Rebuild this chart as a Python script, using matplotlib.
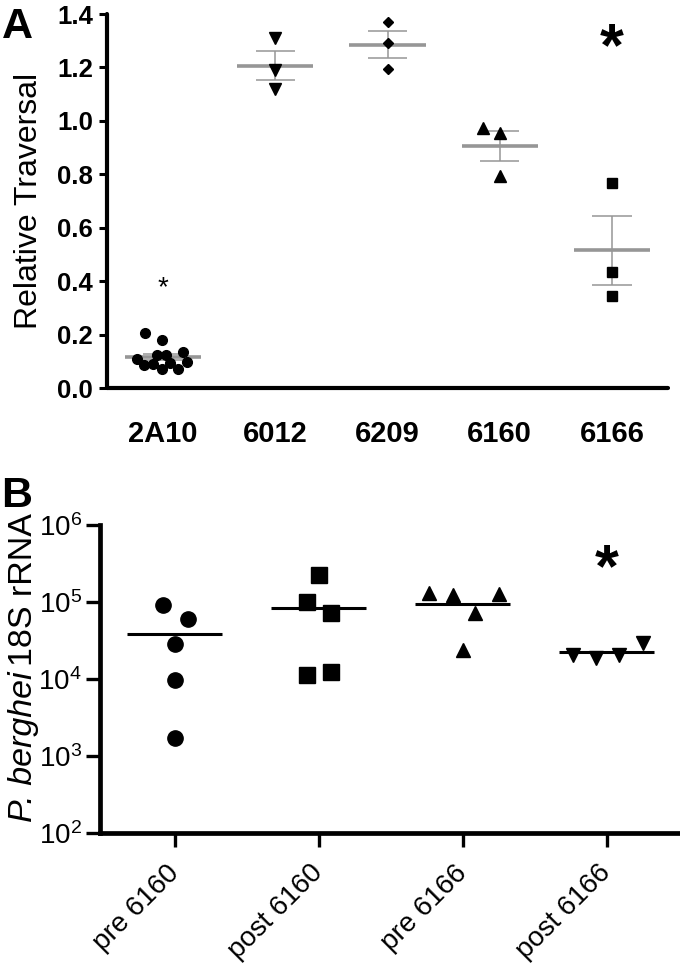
import numpy as np
import matplotlib
matplotlib.use("Agg")
import matplotlib.pyplot as plt

plt.rcParams['font.family'] = ['Liberation Sans', 'DejaVu Sans']
plt.rcParams['mathtext.fontset'] = 'custom'
plt.rcParams['mathtext.rm'] = 'Liberation Sans'

# ---- panel A data (relative traversal) ----
groups_a = ['2A10', '6012', '6209', '6160', '6166']
vals_2a10 = [0.206, 0.179, 0.110, 0.087, 0.090, 0.125, 0.125, 0.071, 0.094, 0.071, 0.133, 0.096]
jit_2a10 = [-0.165, -0.013, -0.237, -0.174, -0.094, -0.058, 0.022, -0.013, 0.058, 0.13, 0.174, 0.21]
vals_6012 = [1.31, 1.19, 1.12]
vals_6209 = [1.369, 1.293, 1.193]
vals_6160 = [0.973, 0.954, 0.792]
jit_6160 = [-0.15, 0.0, 0.0]
vals_6166 = [0.769, 0.434, 0.343]
markers_a = ['o', 'v', 'D', '^', 's']
msize_a = [7, 8, 4.8, 8, 7]
star_small_a = 0.40   # above 2A10
star_big_a = 1.315    # above 6166

# ---- panel B data (P. berghei 18S rRNA) ----
groups_b = ['pre 6160', 'post 6160', 'pre 6166', 'post 6166']
pre_6160 = [9.1e4, 6.0e4, 2.85e4, 9.7e3, 1.7e3]
jit_pre_6160 = [-0.083, 0.09, 0.0, 0.0, 0.0]
post_6160 = [2.24e5, 1.0e5, 7.2e4, 1.12e4, 1.25e4]
jit_post_6160 = [0.0, -0.083, 0.083, -0.083, 0.083]
pre_6166 = [1.31e5, 1.23e5, 1.27e5, 7.1e4, 2.4e4]
jit_pre_6166 = [-0.236, -0.07, 0.25, 0.083, 0.0]
post_6166 = [2.05e4, 1.9e4, 2.05e4, 2.9e4]
jit_post_6166 = [-0.23, -0.076, 0.083, 0.25]
markers_b = ['o', 's', '^', 'v']
msize_b = [11, 11, 10, 10]
star_b = 3.7e5   # above post 6166

grey = '#969696'

fig = plt.figure(figsize=(6.8, 9.68), dpi=100)

# ================= panel A =================
axA = fig.add_axes([107/680, 1-388/968, 561/680, 374/968])
data_a = [vals_2a10, vals_6012, vals_6209, vals_6160, vals_6166]
jit_a = [jit_2a10, [0]*3, [0]*3, jit_6160, [0]*3]
for i, (v, j) in enumerate(zip(data_a, jit_a)):
    x0 = i + 1
    v = np.array(v)
    m = v.mean()
    sem = v.std(ddof=1) / np.sqrt(len(v))
    axA.plot(x0 + np.array(j), v, linestyle='none', marker=markers_a[i],
             ms=msize_a[i], color='black', zorder=3)
    axA.hlines(m, x0 - 0.34, x0 + 0.34, color=grey, lw=2.6, zorder=2)
    axA.vlines(x0, m - sem, m + sem, color=grey, lw=1.1, zorder=2)
    axA.hlines([m - sem, m + sem], x0 - 0.175, x0 + 0.175, color=grey, lw=1.1, zorder=2)

# asterisks (glyph sits high in its box, so nudge down)
axA.annotate('*', (1, star_small_a), xytext=(0, -5), textcoords='offset points',
             ha='center', va='center', fontsize=20)
axA.annotate('*', (5, star_big_a), xytext=(0, -9), textcoords='offset points',
             ha='center', va='center', fontsize=44, fontweight='bold')

axA.set_xlim(0.5, 5.5)
axA.set_ylim(0, 1.4)
axA.set_xticks(range(1, 6))
axA.set_xticklabels(groups_a, fontsize=21, fontweight='bold')
yt = np.arange(0, 1.41, 0.2)
axA.set_yticks(yt)
axA.set_yticklabels(['%.1f' % t for t in yt], fontsize=18.5, fontweight='bold')
axA.tick_params(axis='x', length=0, pad=23)
axA.tick_params(axis='y', length=6, width=2.2, pad=4)
for s in ['top', 'right']:
    axA.spines[s].set_visible(False)
for s in ['left', 'bottom']:
    axA.spines[s].set_linewidth(3.0)
    axA.spines[s].set_capstyle('round')
axA.set_ylabel('Relative Traversal', fontsize=23)
axA.yaxis.set_label_coords(-0.112, 0.5)
fig.text(0.003, 0.993, 'A', fontsize=31, fontweight='bold', va='top', ha='left')

# ================= panel B =================
axB = fig.add_axes([100/680, 1-833/968, 580/680, 308/968])
data_b = [pre_6160, post_6160, pre_6166, post_6166]
jit_b = [jit_pre_6160, jit_post_6160, jit_pre_6166, jit_post_6166]
for i, (v, j) in enumerate(zip(data_b, jit_b)):
    x0 = i + 1
    v = np.array(v)
    axB.plot(x0 + np.array(j), v, linestyle='none', marker=markers_b[i],
             ms=msize_b[i], color='black', zorder=3)
    axB.hlines(v.mean(), x0 - 0.33, x0 + 0.33, color='black', lw=2.2, zorder=2)

axB.annotate('*', (4, star_b), xytext=(0, -9), textcoords='offset points',
             ha='center', va='center', fontsize=44, fontweight='bold')

axB.set_yscale('log')
axB.set_ylim(1e2, 1e6)
axB.set_xlim(0.48, 4.51)
axB.set_xticks(range(1, 5))
axB.set_xticklabels(groups_b, fontsize=20, rotation=45, ha='right', va='center',
                    rotation_mode='anchor')
axB.set_yticks([1e2, 1e3, 1e4, 1e5, 1e6])
axB.minorticks_off()
axB.tick_params(axis='y', labelsize=20, length=10, width=2.4, pad=3)
axB.tick_params(axis='x', length=10, width=2.4, pad=16)
for s in ['top', 'right']:
    axB.spines[s].set_visible(False)
for s in ['left', 'bottom']:
    axB.spines[s].set_linewidth(3.4)

# y label in two pieces: italic species name + plain rest
lab_x = -0.117
lab_y0 = 0.035
t1 = axB.text(lab_x, lab_y0, 'P. berghei', transform=axB.transAxes, rotation=90,
              rotation_mode='anchor', ha='left', va='baseline',
              fontsize=24.5, fontstyle='italic')
fig.canvas.draw()
bb = t1.get_window_extent().transformed(axB.transAxes.inverted())
axB.text(lab_x, bb.y1 + 0.02, '18S rRNA', transform=axB.transAxes, rotation=90,
         rotation_mode='anchor', ha='left', va='baseline', fontsize=24.5)
fig.text(0.002, 0.508, 'B', fontsize=31, fontweight='bold', va='top', ha='left')

fig.savefig('out.png', dpi=100)
